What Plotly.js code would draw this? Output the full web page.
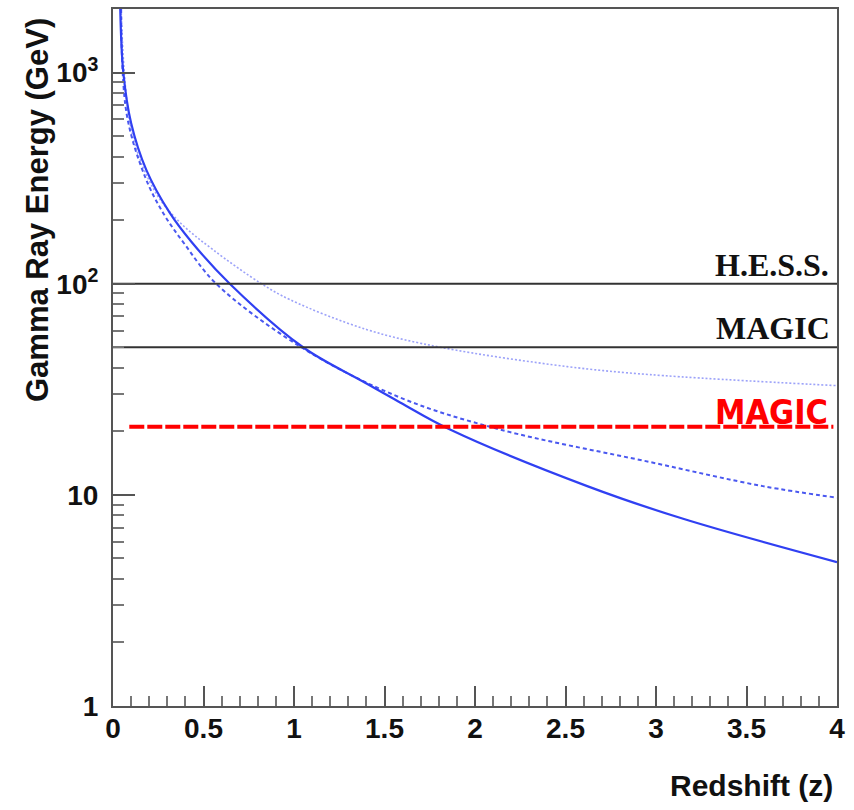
<!DOCTYPE html>
<html>
<head>
<meta charset="utf-8">
<script src="https://cdn.plot.ly/plotly-3.0.1.min.js"></script>
<style>html,body{margin:0;padding:0;background:#fff;}</style>
</head>
<body>
<div id="chart" style="width:854px;height:810px;"></div>
<script>
// Curves: gamma-ray horizon energy vs redshift
const solidZ  = [0.04, 0.057, 0.1, 0.184, 0.313, 0.433, 0.645, 1.05, 1.381, 1.586, 1.862, 2.62, 3.15, 4.0];
const solidE  = [2000, 1000, 577, 346, 217, 158, 100, 50, 34.4, 27.4, 20.4, 11, 7.7, 4.8];
const dashZ   = [0.045, 0.075, 0.177, 0.276, 0.398, 0.57, 1.04, 1.586, 2.138, 2.967, 3.59, 4.0];
const dashE   = [2000, 640, 321, 217, 153, 100, 50, 28.9, 20.4, 14.3, 11, 9.7];
const dotZ    = [0.045, 0.105, 0.238, 0.37, 0.552, 0.82, 0.978, 1.403, 1.82, 2.51, 2.967, 4.0];
const dotE    = [2000, 517, 268, 195, 145, 100, 84, 60.6, 49.8, 40.5, 37.1, 32.9];
// Instrument thresholds
const thrNames = ["H.E.S.S.", "MAGIC"];
const thrE     = [100, 50];
const thrZ     = [0, 4];
const magicNewName = "MAGIC";
const magicNewE    = 21;
const magicNewZ    = [0.09, 3.98];
// Axis ticks
const yTickVals = [1, 10, 100, 1000];
const yTickText = ["<b>1</b>", "<b>10</b>", "<b>10<sup>2</sup></b>", "<b>10<sup>3</sup></b>"];
const xTitle = "Redshift (z)";
const yTitle = "Gamma Ray Energy (GeV)";

const traces = [
  {x: dotZ, y: dotE, mode: 'lines', line: {color: 'rgba(90,100,245,0.6)', width: 1.6, dash: '2px,2px', shape: 'spline'}},
  {x: dashZ, y: dashE, mode: 'lines', line: {color: '#4a58f0', width: 2, dash: '4px,3px', shape: 'spline'}},
  {x: solidZ, y: solidE, mode: 'lines', line: {color: '#3040f2', width: 2.2, shape: 'spline'}},
];
thrE.forEach(e => traces.push({x: thrZ, y: [e, e], mode: 'lines', line: {color: '#333', width: 2}}));
traces.push({x: magicNewZ, y: [magicNewE, magicNewE], mode: 'lines', line: {color: '#ff0000', width: 4, dash: '15px,3px'}});

const annotations = [
  {x: 4, y: Math.log10(thrE[0]), xref: 'x', yref: 'y', text: '<b>' + thrNames[0] + '</b>', showarrow: false,
   xanchor: 'right', yanchor: 'bottom', xshift: -6, yshift: -1,
   font: {family: 'Liberation Serif', size: 32, color: '#111'}},
  {x: 4, y: Math.log10(thrE[1]), xref: 'x', yref: 'y', text: '<b>' + thrNames[1] + '</b>', showarrow: false,
   xanchor: 'right', yanchor: 'bottom', xshift: -5, yshift: -1,
   font: {family: 'Liberation Serif', size: 32, color: '#111'}},
  {x: 4, y: Math.log10(magicNewE), xref: 'x', yref: 'y', text: '<b>' + magicNewName + '</b>', showarrow: false,
   xanchor: 'right', yanchor: 'bottom', xshift: -7, yshift: -7,
   font: {family: 'DejaVu Sans Condensed', size: 34, color: '#ff0000'}},
  {x: 1, y: 0, xref: 'paper', yref: 'paper', text: '<b>' + xTitle + '</b>', showarrow: false,
   xanchor: 'right', yanchor: 'top', xshift: -2, yshift: -61,
   font: {family: 'Liberation Sans', size: 30, color: '#111'}},
  {x: 0, y: 1, xref: 'paper', yref: 'paper', text: '<b>' + yTitle + '</b>', showarrow: false, textangle: -90,
   xanchor: 'center', yanchor: 'top', xshift: -76, yshift: -7,
   font: {family: 'Liberation Sans', size: 31, color: '#111'}},
];

const layout = {
  width: 854, height: 810,
  margin: {l: 113, r: 17, t: 9, b: 104},
  paper_bgcolor: '#fff', plot_bgcolor: '#fff',
  showlegend: false,
  xaxis: {
    range: [0, 4], dtick: 0.5, tick0: 0,
    ticks: 'inside', ticklen: 20, tickwidth: 2, tickcolor: '#555',
    minor: {dtick: 0.1, ticks: 'inside', ticklen: 10, tickwidth: 2, tickcolor: '#777', showgrid: false},
    showgrid: false, zeroline: false,
    showline: true, mirror: true, linecolor: '#555', linewidth: 2,
    tickfont: {family: 'Liberation Sans', size: 28, color: '#111', weight: 'bold'},
    ticklabelstandoff: -4
  },
  yaxis: {
    type: 'log', range: [0, Math.log10(2000)],
    tickvals: yTickVals, ticktext: yTickText, tickmode: 'array',
    ticks: 'inside', ticklen: 22, tickwidth: 2, tickcolor: '#555',
    minor: {dtick: 'D1', ticks: 'inside', ticklen: 11, tickwidth: 2, tickcolor: '#777', showgrid: false},
    showgrid: false, zeroline: false,
    showline: true, mirror: true, linecolor: '#555', linewidth: 2,
    tickfont: {family: 'Liberation Sans', size: 28, color: '#111'},
    ticklabelstandoff: 7
  },
  annotations: annotations
};

Plotly.newPlot('chart', traces, layout, {displayModeBar: false, staticPlot: true});
</script>
</body>
</html>
